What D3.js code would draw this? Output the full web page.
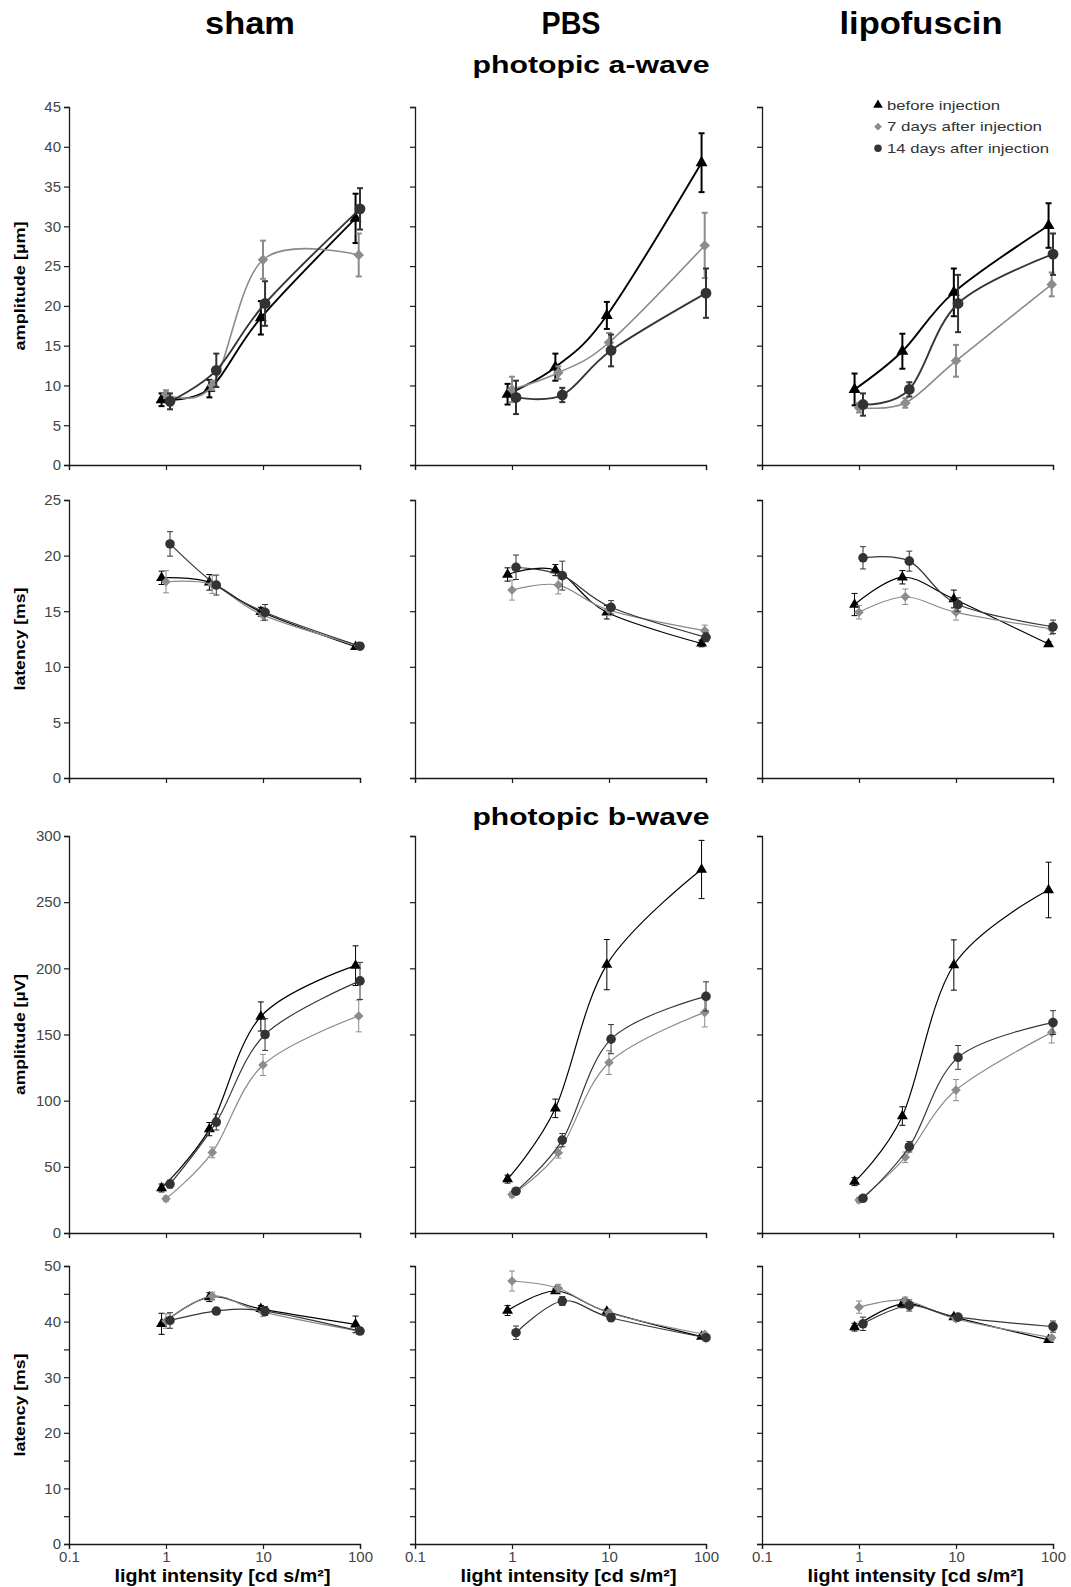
<!DOCTYPE html>
<html>
<head>
<meta charset="utf-8">
<script src="https://cdn.jsdelivr.net/npm/d3@7"></script>
<style>
  body { margin: 0; background: #fff; }
  svg { display: block; }
  text { font-family: "Liberation Sans", Arial, Helvetica, sans-serif; }
</style>
</head>
<body>
<svg id="chart" width="1071" height="1587"></svg>
<script>
// ---- categories and labels ----
const groups = ["sham", "PBS", "lipofuscin"];
const seriesNames = ["before injection", "7 days after injection", "14 days after injection"];
const sectionTitles = ["photopic a-wave", "photopic b-wave"];
const xTitle = "light intensity [cd s/m²]";
const yTitles = ["amplitude [µm]", "latency [ms]", "amplitude [µV]", "latency [ms]"];

// light intensities per series (slightly offset so the markers do not overlap)
const xBefore = [0.9, 2.8, 9.5, 90];
const x7d = [1, 3, 10, 97];
const x14d = [1.1, 3.3, 10.5, 100];
const xTicks = [0.1, 1, 10, 100];

// tick values of the y axes
const aAmpTicks = [0, 5, 10, 15, 20, 25, 30, 35, 40, 45];
const aLatTicks = [0, 5, 10, 15, 20, 25];
const bAmpTicks = [0, 50, 100, 150, 200, 250, 300];
const bLatTicks = [0, 5, 10, 15, 20, 25, 30, 35, 40, 45, 50];
const bLatLabels = [0, 10, 20, 30, 40, 50];

// photopic a-wave amplitude [µm]: [before, 7 days, 14 days]
const aAmpSham = [[8.2, 9.6, 18.5, 31.0], [8.9, 10.0, 25.8, 26.4], [8.0, 11.9, 20.3, 32.2]];
const aAmpShamErr = [[0.8, 1.1, 2.1, 3.1], [0.5, 0.6, 2.4, 2.7], [1.0, 2.1, 2.8, 2.6]];
const aAmpPBS = [[8.9, 12.3, 18.8, 38.0], [9.5, 11.6, 15.4, 27.6], [8.5, 8.8, 14.4, 21.6]];
const aAmpPBSErr = [[1.3, 1.7, 1.7, 3.7], [1.6, 0.8, 1.2, 4.1], [2.1, 0.9, 2.0, 3.1]];
const aAmpLipo = [[9.5, 14.3, 21.7, 30.1], [7.2, 7.8, 13.1, 22.7], [7.6, 9.5, 20.3, 26.5]];
const aAmpLipoErr = [[2.0, 2.2, 3.0, 2.8], [0.6, 0.6, 2.0, 1.5], [1.4, 0.9, 3.6, 2.6]];

// photopic a-wave latency [ms]
const aLatSham = [[18.0, 17.6, 14.95, 11.8], [17.65, 17.4, 14.65, 11.9], [21.05, 17.35, 14.9, 11.85]];
const aLatShamErr = [[0.6, 0.7, 0.4, 0.2], [1.0, 0.8, 0.5, 0.2], [1.1, 0.9, 0.7, 0.3]];
const aLatPBS = [[18.3, 18.7, 14.9, 12.1], [16.9, 17.35, 15.1, 13.25], [18.95, 18.2, 15.35, 12.65]];
const aLatPBSErr = [[0.6, 0.5, 0.6, 0.3], [0.9, 0.8, 0.5, 0.5], [1.1, 1.3, 0.6, 0.4]];
const aLatLipo = [[15.6, 18.05, 16.1, 12.05], [14.9, 16.3, 14.9, 13.4], [19.8, 19.5, 15.6, 13.6]];
const aLatLipoErr = [[1.0, 0.6, 0.8, 0.2], [0.6, 0.7, 0.7, 0.5], [1.0, 0.9, 0.6, 0.6]];

// photopic b-wave amplitude [µV]
const bAmpSham = [[34, 78.5, 163.6, 202], [25.9, 60.9, 127, 164], [37, 83.8, 150, 190.5]];
const bAmpShamErr = [[3, 5, 11, 15], [2, 4, 8, 12], [3, 6, 12, 14]];
const bAmpPBS = [[40.7, 94.2, 202.8, 274.7], [29.0, 60.6, 128.8, 166.7], [31.6, 70.2, 146.5, 178.8]];
const bAmpPBSErr = [[3, 7, 19, 22], [2, 4, 9, 11], [2, 5, 11, 11]];
const bAmpLipo = [[38.8, 88.4, 202.5, 259.2], [24.9, 57.2, 108, 151.6], [26.2, 65.2, 132.7, 159]];
const bAmpLipoErr = [[3, 7, 19, 21], [2, 4, 8, 8], [2, 4, 9, 9]];

// photopic b-wave latency [ms]
const bLatSham = [[39.6, 44.4, 42.3, 39.5], [40.1, 44.6, 41.7, 38.3], [40.2, 41.9, 41.9, 38.3]];
const bLatShamErr = [[1.9, 0.8, 0.6, 1.5], [1.3, 0.7, 0.8, 0.6], [1.4, 0.4, 0.8, 0.6]];
const bLatPBS = [[42.0, 45.5, 41.8, 37.3], [47.3, 46.0, 41.6, 37.7], [38.0, 43.7, 40.7, 37.1]];
const bLatPBSErr = [[0.9, 0.4, 0.4, 0.3], [1.8, 0.7, 0.5, 0.4], [1.2, 0.8, 0.7, 0.4]];
const bLatLipo = [[39.0, 43.2, 40.8, 36.7], [42.6, 43.8, 40.5, 37.1], [39.6, 42.9, 40.8, 39.1]];
const bLatLipoErr = [[0.7, 0.7, 0.4, 0.4], [1.1, 0.6, 0.5, 0.4], [1.2, 1.0, 0.5, 1.0]];

// ---- layout ----
const colLeft = [69, 415, 762];
const plotW = 291;
const rowBox = [[107, 465], [500, 778], [836, 1233], [1266, 1544]];

const rows = [
  { vals: [aAmpSham, aAmpPBS, aAmpLipo], errs: [aAmpShamErr, aAmpPBSErr, aAmpLipoErr],
    domain: [0, 45], ticks: aAmpTicks, labels: aAmpTicks, yTitleLen: 129, heavy: true },
  { vals: [aLatSham, aLatPBS, aLatLipo], errs: [aLatShamErr, aLatPBSErr, aLatLipoErr],
    domain: [0, 25], ticks: aLatTicks, labels: aLatTicks, yTitleLen: 103, heavy: false },
  { vals: [bAmpSham, bAmpPBS, bAmpLipo], errs: [bAmpShamErr, bAmpPBSErr, bAmpLipoErr],
    domain: [0, 300], ticks: bAmpTicks, labels: bAmpTicks, yTitleLen: 121, heavy: false },
  { vals: [bLatSham, bLatPBS, bLatLipo], errs: [bLatShamErr, bLatPBSErr, bLatLipoErr],
    domain: [0, 50], ticks: bLatTicks, labels: bLatLabels, yTitleLen: 103, heavy: false }
];

const seriesX = [xBefore, x7d, x14d];
const lineColor = ["#000000", "#8a8a8a", "#363636"];
const markColor = ["#000000", "#8c8c8c", "#333333"];
const symbols = [d3.symbolTriangle, d3.symbolSquare, d3.symbolCircle];

const svg = d3.select("#chart");

function fitText(sel, len) {
  sel.attr("textLength", len).attr("lengthAdjust", "spacingAndGlyphs");
}

function markerPath(s, heavy) {
  const sizes = heavy ? [62, 56, 92] : [52, 46, 72];
  return d3.symbol(symbols[s], sizes[s])();
}

rows.forEach((row, r) => {
  const [top, bottom] = rowBox[r];
  const y = d3.scaleLinear().domain(row.domain).range([bottom, top]);

  groups.forEach((g, c) => {
    const x = d3.scaleLog().domain([0.1, 100]).range([colLeft[c], colLeft[c] + plotW]);
    const panel = svg.append("g");

    // axes
    const yAxis = d3.axisLeft(y).tickValues(row.ticks).tickSize(5).tickPadding(3)
      .tickFormat(d => (c === 0 && row.labels.includes(d)) ? String(d) : "");
    const ya = panel.append("g").attr("transform", `translate(${colLeft[c]},0)`).call(yAxis);

    const xAxis = d3.axisBottom(x).tickValues(xTicks).tickSize(5).tickPadding(2)
      .tickFormat(d => r === 3 ? String(d) : "");
    const xa = panel.append("g").attr("transform", `translate(0,${bottom})`).call(xAxis);

    [ya, xa].forEach(a => {
      a.select(".domain").attr("stroke", "#1a1a1a").attr("stroke-width", 1.3);
      a.selectAll(".tick line").attr("stroke", "#1a1a1a").attr("stroke-width", 1.2);
      a.selectAll(".tick text").attr("fill", "#444").attr("font-size", 15)
        .attr("font-family", "'Liberation Sans', Arial, sans-serif");
    });

    // series
    const vals = row.vals[c];
    const errs = row.errs[c];
    const line = d3.line()
      .x(d => x(d[0])).y(d => y(d[1]))
      .curve(d3.curveCardinal.tension(0));

    vals.forEach((v, s) => {
      const pts = v.map((val, i) => [seriesX[s][i], val, errs[s][i]]);
      const sg = panel.append("g");

      sg.append("path")
        .attr("d", line(pts))
        .attr("fill", "none")
        .attr("stroke", lineColor[s])
        .attr("stroke-width", row.heavy ? (s === 1 ? 1.6 : 1.9) : 1.2);

      const ew = row.heavy ? 2 : 1;
      const bars = sg.selectAll(".err").data(pts).enter().append("g");
      bars.append("line")
        .attr("x1", d => x(d[0])).attr("x2", d => x(d[0]))
        .attr("y1", d => y(d[1] - d[2])).attr("y2", d => y(d[1] + d[2]))
        .attr("stroke", markColor[s]).attr("stroke-width", ew);
      [-1, 1].forEach(sign => {
        bars.append("line")
          .attr("x1", d => x(d[0]) - 3).attr("x2", d => x(d[0]) + 3)
          .attr("y1", d => y(d[1] + sign * d[2])).attr("y2", d => y(d[1] + sign * d[2]))
          .attr("stroke", markColor[s]).attr("stroke-width", ew);
      });

      sg.selectAll(".mk").data(pts).enter().append("path")
        .attr("d", markerPath(s, row.heavy))
        .attr("transform", d => `translate(${x(d[0])},${y(d[1])})` + (s === 1 ? " rotate(45)" : ""))
        .attr("fill", markColor[s]);
    });

    // x axis title under the bottom row
    if (r === 3) {
      panel.append("text")
        .attr("x", colLeft[c] + plotW / 2 + 8).attr("y", 1582)
        .attr("text-anchor", "middle")
        .attr("font-size", 18).attr("font-weight", "bold").attr("fill", "#000")
        .text(xTitle)
        .call(fitText, 216);
    }
  });

  // y axis title
  const cy = (top + bottom) / 2;
  svg.append("text")
    .attr("transform", `translate(25,${cy}) rotate(-90)`)
    .attr("text-anchor", "middle")
    .attr("font-size", 14).attr("font-weight", "bold").attr("fill", "#000")
    .text(yTitles[r])
    .call(fitText, row.yTitleLen);
});

// group titles
const groupCenters = [250, 571, 921];
const groupWidths = [90, 59, 163];
groups.forEach((g, i) => {
  svg.append("text")
    .attr("x", groupCenters[i]).attr("y", 34)
    .attr("text-anchor", "middle")
    .attr("font-size", 32).attr("font-weight", "bold").attr("fill", "#000")
    .text(g)
    .call(fitText, groupWidths[i]);
});

// section titles
[[73, 0], [825, 1]].forEach(([yy, i]) => {
  svg.append("text")
    .attr("x", 591).attr("y", yy)
    .attr("text-anchor", "middle")
    .attr("font-size", 24).attr("font-weight", "bold").attr("fill", "#000")
    .text(sectionTitles[i])
    .call(fitText, 237);
});

// legend
const legendRows = [105, 126.7, 148.3];
const legendLens = [113, 155, 162];
const legend = svg.append("g");
seriesNames.forEach((name, s) => {
  legend.append("path")
    .attr("d", d3.symbol(symbols[s], [40, 30, 44][s])())
    .attr("transform", `translate(878,${legendRows[s]})` + (s === 1 ? " rotate(45)" : ""))
    .attr("fill", markColor[s]);
  legend.append("text")
    .attr("x", 887).attr("y", legendRows[s] + 4.5)
    .attr("font-size", 13).attr("fill", "#333")
    .text(name)
    .call(fitText, legendLens[s]);
});
</script>
</body>
</html>
